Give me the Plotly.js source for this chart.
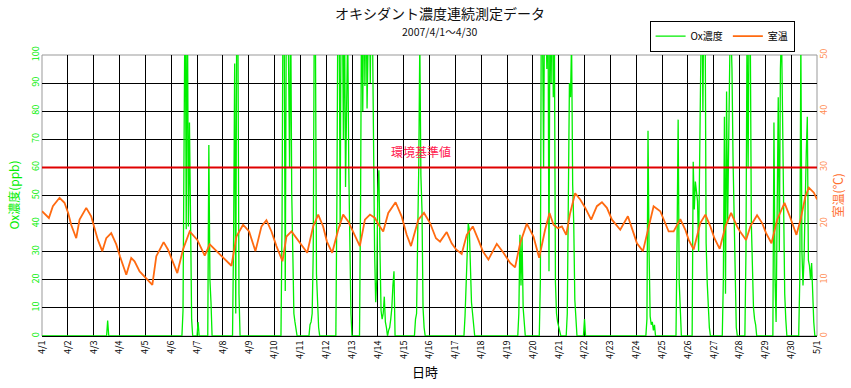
<!DOCTYPE html>
<html><head><meta charset="utf-8">
<script src="https://cdn.plot.ly/plotly-3.0.1.min.js"></script>
<style>body{margin:0;background:#fff}#chart{width:851px;height:388px}</style>
</head><body><div id="chart"></div>
<script>
// ---- data ----
const dayLabels = ['4/1','4/2','4/3','4/4','4/5','4/6','4/7','4/8','4/9','4/10','4/11','4/12','4/13','4/14','4/15','4/16','4/17','4/18','4/19','4/20','4/21','4/22','4/23','4/24','4/25','4/26','4/27','4/28','4/29','4/30','5/1'];

// hours since 2007/4/1 0:00
const tempHours = [0,6.4,10.1,16.3,20.9,24.3,27.1,31.8,34.9,41.1,45.7,48.2,51.9,56,59.7,64.3,69,72.4,78.3,82.9,86,90.7,96.6,102.5,106.2,113,117,120.5,125.7,131,137.2,144.3,
 151.2,155.8,160.5,168.5,176,180.6,186.8,192.4,198.3,203.9,208.5,213.2,217.8,223.4,227.1,231.8,236.4,240.5,246.4,251.9,256.6,261.2,264.7,269.6,275.2,279.8,284.5,
 295.3,300,304.7,309.3,312.7,317,321.7,328.5,334.1,338.8,342.8,349.6,354.9,360.5,366,369.8,376,380.6,384.7,389.9,394.6,400.2,405.4,409.5,414.7,422.5,428.7,434.9,
 439.5,444.2,450.4,456.6,461.9,467.4,471.5,475.2,479.2,483,487,490.7,495.3,500,504.7,510.2,515.5,520.2,524.8,529.5,537.2,544.3,549.6,552.7,558.3,563.6,568.2,574.4,579.1,
 582.2,586.8,593,597.7,600.8,605.4,611.6,616.3,620.9,624.7,629.6,634.9,640.2,645.7,648.5,654.1,658.1,664.3,669,672.7,677.7,683,689.8,695.3,700.9,704.7,709.3,712.4,717.1,720];
const tempVals = [22.2,21.0,23.1,24.6,23.7,21.9,19.8,17.4,20.7,22.8,21.3,19.5,17.1,15.1,17.4,18.3,16.3,14.2,10.9,13.9,13.3,11.5,10.3,9.1,14.2,16.7,15.4,13.6,11.2,15.4,18.6,17.1,
 14.3,16.3,15.4,13.9,12.5,17.7,19.8,18.6,15.1,19.5,20.6,18.6,16.0,13.3,17.7,18.6,17.4,16.5,14.8,19.5,21.6,19.5,16.8,14.8,18.9,21.6,20.4,
 16.0,20.7,21.6,21.0,19.8,18.6,21.9,23.8,21.3,18.0,16.0,20.7,21.9,20.1,17.4,16.8,18.5,16.5,15.4,14.6,18.0,19.5,17.1,15.1,13.6,16.4,14.8,13.0,
 12.2,16.5,20.0,17.7,13.9,18.9,21.9,19.8,19.2,19.5,18.0,21.9,25.4,24.3,22.8,20.7,23.1,23.8,22.8,20.7,18.9,21.3,18.3,16.5,15.1,19.5,23.1,22.2,19.8,
 18.6,18.6,20.8,18.9,17.1,15.4,20.1,21.6,19.5,17.4,15.5,19.5,21.9,19.5,18.6,17.1,19.5,21.5,20.1,18.3,16.5,20.7,23.7,21.0,18.0,20.7,24.9,26.4,25.5,24.3];

// Ox readings (hour, ppb); hours not listed are 0 ppb
const oxHours = [61,
 131,132,133,134,135,136,137,138,139, 145,
 155,156,157,
 178,179,180,181,182,183,
 223,224,225,226,227,228,229,230,231,232,233,234,235,236,
 249,250,251,252,253,254,255,256,257,
 274,275,276,277,278,279,280,281,282,283,284,285,286,287,
 296,297,298,299,300,301,302,303,304,305,306,307,308,309,310,311,312,313,314,315,316,317,318,319,320,322,323,324,325,326,327,
 347,348,349,350,351,352,353,354,355,
 393,394,395,396,397,398,399,400,401,
 443,444,445,446,447,448,
 463,464,465,466,467,468,469,470,471,472,473,474,475,476,477,478,479,480,481,
 488,489,490,491,492,493,494,495,496, 504,
 562,563,564,565,566,567,568,569,
 590,591,592,593,
 605,606,607,608,609,610,611,612,613,614,615,616,617,618,619,620,
 633,634,635,636,637,638,639,640,641,642,643,644,645,
 654,655,656,657,658,659,660,661,662,663,
 680,681,682,683,684,685,686,687,688,689,690,691,
 704,705,706,707,708,709,710,711,712,713,714,715,716,717];
const oxVals = [5.5,
 9,84,130,38,130,39,76,42,6, 5,
 68,20,12,
 35,97,8,130,110,15,
 40,130,110,16,120,130,100,60,120,51,30,8,5,3,
 4,5,8,30,120,110,22,10,3,
 50,130,120,39,130,125,70,120,53,90,110,60,22,8,
 50,130,80,130,89,130,81,120,130,90,130,110,60,30,12,20,52,59,30,9,6,8,14,5,3,2,3,6,10,18,23,
 6,8,35,60,105,57,45,10,3,
 7,19,28,40,38,19,12,8,3,
 8,36,18,35,10,4,
 20,130,110,60,130,120,95,130,23,130,90,130,85,110,19,8,5,3,2,
 8,70,90,85,105,54,40,13,5, 6,
 6,73,30,7,4,5,2,4,
 35,77,19,6,
 62,45,55,50,48,30,60,110,130,80,130,120,33,19,7,3,
 20,78,15,87,40,85,100,110,95,63,40,13,3,
 30,110,60,120,110,40,25,10,6,4,
 76,20,5,40,85,30,95,110,72,35,15,6,
 20,105,30,18,28,55,65,78,27,25,20,26,12,5];

const standardValue = 60;
const standardLabel = '環境基準値';
const totalHours = 720;

// ---- build hourly Ox series ----
const oxX = [], oxY = [];
for (let h = 0; h <= totalHours; h++) { oxX.push(h); oxY.push(0); }
oxHours.forEach((h, i) => { oxY[h] = oxVals[i]; });

const tickVals = dayLabels.map((_, i) => i * 24);
const F = '"Noto Sans CJK JP", "Noto Sans", sans-serif';
const GREEN = '#00ee00', ORANGE = '#ff6a10';

const traces = [
  {x: oxX, y: oxY, type: 'scatter', mode: 'lines', name: 'Ox濃度',
   line: {color: GREEN, width: 1.3}, yaxis: 'y'},
  {x: tempHours, y: tempVals, type: 'scatter', mode: 'lines', name: '室温',
   line: {color: ORANGE, width: 1.8}, yaxis: 'y2'}
];

const layout = {
  width: 851, height: 388,
  margin: {l: 42, r: 34, t: 55, b: 52},
  paper_bgcolor: '#fff', plot_bgcolor: '#fff',
  font: {family: F, size: 10, color: '#000'},
  showlegend: true,
  legend: {orientation: 'h', x: 0.784, y: 1.122, xanchor: 'left', yanchor: 'top',
           bordercolor: '#000', borderwidth: 1, font: {family: F, size: 10, color: '#000'},
           bgcolor: '#fff', itemwidth: 30, tracegroupgap: 0},
  xaxis: {range: [0, totalHours], tickmode: 'array', tickvals: tickVals, ticktext: dayLabels,
          tickangle: -90, tickfont: {size: 9, color: '#000'}, showgrid: true, gridcolor: '#000', gridwidth: 1,
          zeroline: false, showline: true, linecolor: '#000', ticks: '', ticklen: 2, fixedrange: true},
  yaxis: {range: [0, 100], dtick: 10, tickangle: -90, tickfont: {size: 9, color: GREEN},
          showgrid: true, gridcolor: '#000', gridwidth: 1, zeroline: false, ticks: '', showline: false},
  yaxis2: {range: [0, 50], dtick: 10, overlaying: 'y', side: 'right', tickangle: -90,
           tickfont: {size: 9, color: '#ff8a50'}, showgrid: false, zeroline: false, ticks: '', showline: false},
  shapes: [
    {type: 'rect', xref: 'paper', yref: 'paper', x0: 0, x1: 1, y0: 0, y1: 1, line: {color: '#999', width: 1}, layer: 'below'},
    {type: 'line', xref: 'x', yref: 'y', x0: 0, x1: totalHours, y0: standardValue, y1: standardValue,
     line: {color: '#e00000', width: 2}, layer: 'above'}
  ],
  annotations: [
    {text: 'オキシダント濃度連続測定データ', xref: 'paper', yref: 'paper', x: 0.5135, y: 1.15,
     xanchor: 'center', yanchor: 'middle', showarrow: false, font: {family: F, size: 14, color: '#111'}},
    {text: '2007/4/1～4/30', xref: 'paper', yref: 'paper', x: 0.5135, y: 1.083,
     xanchor: 'center', yanchor: 'middle', showarrow: false, font: {family: F, size: 10.5, color: '#111'}},
    {text: '日時', xref: 'paper', yref: 'paper', x: 0.494, y: -0.128,
     xanchor: 'center', yanchor: 'middle', showarrow: false, font: {family: F, size: 13, color: '#000'}},
    {text: 'Ox濃度(ppb)', xref: 'paper', yref: 'paper', x: -0.0374, y: 0.50, textangle: -90,
     xanchor: 'center', yanchor: 'middle', showarrow: false, font: {family: F, size: 12, color: GREEN}},
    {text: '室温(℃)', xref: 'paper', yref: 'paper', x: 1.027, y: 0.50, textangle: -90,
     xanchor: 'center', yanchor: 'middle', showarrow: false, font: {family: F, size: 12, color: '#ff7030'}},
    {text: standardLabel, xref: 'x', yref: 'y', x: 352, y: 65.5,
     xanchor: 'center', yanchor: 'middle', showarrow: false, font: {family: F, size: 12, color: '#ff2050'}}
  ]
};

Plotly.newPlot('chart', traces, layout, {displayModeBar: false, staticPlot: true});
</script>
</body></html>
